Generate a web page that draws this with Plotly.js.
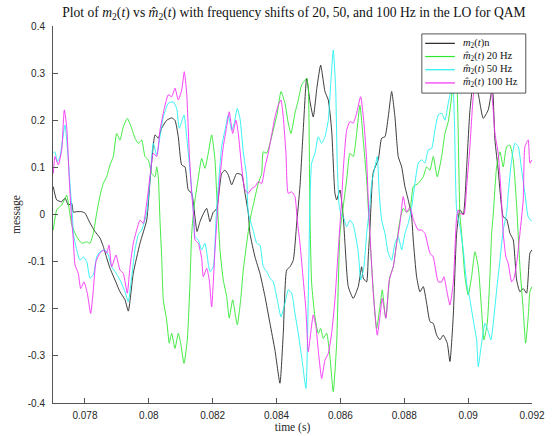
<!DOCTYPE html>
<html>
<head>
<meta charset="utf-8">
<script src="https://cdn.plot.ly/plotly-3.0.1.min.js"></script>
<style>
  html, body { margin: 0; padding: 0; background: #fff; }
  #chart { width: 553px; height: 436px; }
</style>
</head>
<body>
<div id="chart"></div>
<script>
// m2(t)n : reference message
const tK = [0.077009,0.077116,0.077272,0.077376,0.077479,0.077585,0.077636,0.077742,0.077899,0.078002,
  0.078158,0.078315,0.078472,0.078575,0.078681,0.078785,0.078941,0.079098,0.079254,0.079358,
  0.079514,0.079724,0.079934,0.080037,0.080131,0.080194,0.080297,0.080403,0.080560,0.080716,
  0.080820,0.080923,0.081030,0.081133,0.081236,0.081343,0.081446,0.081509,0.081603,0.081697,
  0.081812,0.081916,0.082019,0.082125,0.082282,0.082385,0.082489,0.082595,0.082752,0.082908,
  0.083012,0.083115,0.083168,0.083325,0.083481,0.083638,0.083794,0.083951,0.084107,0.084211,
  0.084317,0.084420,0.084524,0.084630,0.084734,0.084837,0.084943,0.085047,0.085150,0.085266,
  0.085382,0.085516,0.085620,0.085726,0.085829,0.085883,0.085986,0.086089,0.086143,0.086246,
  0.086402,0.086559,0.086665,0.086716,0.086822,0.086872,0.086925,0.087029,0.087185,0.087292,
  0.087395,0.087498,0.087605,0.087708,0.087811,0.087918,0.088021,0.088124,0.088231,0.088281,
  0.088387,0.088491,0.088594,0.088700,0.088804,0.088907,0.089014,0.089117,0.089220,0.089346,
  0.089430,0.089533,0.089640,0.089743,0.089847,0.089953,0.090056,0.090182,0.090307,0.090473,
  0.090629,0.090761,0.090839,0.090942,0.090996,0.091099,0.091205,0.091309,0.091412,0.091518,
  0.091622,0.091725,0.091831,0.091935,0.092000];
const vK = [0.059,0.031,0.027,0.035,0.020,0.024,0.005,0.006,0.006,0.003,
  -0.018,-0.036,-0.050,-0.068,-0.092,-0.114,-0.139,-0.164,-0.181,-0.205,
  -0.125,-0.061,-0.012,0.070,0.140,0.169,0.162,0.183,0.200,0.205,
  0.200,0.165,0.105,0.101,0.052,0.045,-0.005,-0.036,-0.015,0.000,
  0.013,-0.015,0.005,0.012,0.087,0.094,0.084,0.063,0.087,0.084,
  0.045,0.003,-0.040,-0.090,-0.125,-0.174,-0.231,-0.288,-0.358,-0.252,
  -0.118,-0.111,-0.097,-0.020,0.060,0.180,0.289,0.240,0.207,0.270,
  0.317,0.261,0.243,0.179,0.045,0.031,0.052,-0.005,-0.061,-0.153,
  -0.178,-0.153,-0.111,-0.135,-0.143,-0.090,-0.030,0.090,0.116,0.162,
  0.165,0.207,0.261,0.207,0.123,0.101,0.059,0.031,-0.005,-0.054,
  -0.132,-0.164,-0.153,-0.188,-0.227,-0.231,-0.256,-0.266,-0.256,-0.273,
  -0.312,-0.217,-0.040,0.010,0.000,0.100,0.220,0.290,0.260,0.204,
  0.222,0.270,0.158,0.094,0.052,-0.005,-0.010,-0.040,-0.054,-0.139,
  -0.164,-0.157,-0.167,-0.082,-0.075];

// recovered message, 20 Hz LO offset
const tG = [0.077009,0.077116,0.077219,0.077272,0.077376,0.077429,0.077532,0.077585,0.077742,0.077899,
  0.078055,0.078158,0.078262,0.078368,0.078472,0.078575,0.078681,0.078785,0.078888,0.078994,
  0.079098,0.079201,0.079326,0.079464,0.079567,0.079671,0.079777,0.079881,0.079984,0.080090,
  0.080194,0.080247,0.080297,0.080350,0.080403,0.080454,0.080560,0.080641,0.080716,0.080820,
  0.080923,0.080998,0.081102,0.081205,0.081289,0.081343,0.081393,0.081446,0.081549,0.081656,
  0.081759,0.081862,0.081969,0.082072,0.082125,0.082176,0.082229,0.082332,0.082438,0.082520,
  0.082626,0.082770,0.082877,0.082958,0.083065,0.083168,0.083271,0.083428,0.083534,0.083585,
  0.083691,0.083794,0.083898,0.084023,0.084139,0.084264,0.084367,0.084452,0.084577,0.084680,
  0.084787,0.084890,0.084943,0.084993,0.085047,0.085100,0.085203,0.085307,0.085382,0.085463,
  0.085570,0.085673,0.085776,0.085883,0.085986,0.086089,0.086196,0.086299,0.086402,0.086509,
  0.086612,0.086716,0.086822,0.086925,0.087029,0.087135,0.087238,0.087311,0.087417,0.087551,
  0.087655,0.087761,0.087865,0.087968,0.088074,0.088178,0.088281,0.088438,0.088594,0.088700,
  0.088804,0.088907,0.089033,0.089170,0.089274,0.089377,0.089483,0.089555,0.089618,0.089681,
  0.089743,0.089796,0.089900,0.090003,0.090109,0.090213,0.090316,0.090422,0.090495,0.090598,
  0.090682,0.090736,0.090786,0.090892,0.090996,0.091099,0.091205,0.091309,0.091412,0.091518,
  0.091622,0.091725,0.091800,0.091881,0.091935,0.092000];
const vG = [-0.033,0.010,0.017,0.020,0.034,0.041,0.000,-0.022,-0.047,-0.061,
  -0.058,-0.061,-0.040,0.003,0.040,0.066,0.080,0.105,0.123,0.172,
  0.158,0.186,0.204,0.183,0.162,0.151,0.158,0.123,0.116,0.087,
  0.080,0.101,0.080,-0.012,-0.090,-0.181,-0.224,-0.273,-0.252,-0.284,
  -0.252,-0.273,-0.316,-0.266,-0.146,-0.040,0.000,0.031,0.077,0.119,
  0.098,0.130,0.169,0.116,0.045,-0.012,-0.075,-0.139,-0.174,-0.220,
  -0.181,-0.234,-0.181,-0.118,-0.061,-0.012,0.020,0.066,0.087,0.133,
  0.130,0.151,0.179,0.215,0.261,0.236,0.194,0.172,0.215,0.243,
  0.275,0.285,0.289,0.270,0.000,-0.146,-0.217,-0.252,-0.242,-0.263,
  -0.252,-0.302,-0.376,-0.273,-0.040,0.017,0.073,0.130,0.123,0.172,
  0.232,0.158,0.073,-0.050,-0.160,-0.242,-0.196,-0.160,-0.220,-0.132,
  -0.111,-0.061,-0.012,0.013,0.005,0.010,0.059,0.066,0.080,0.101,
  0.094,0.123,0.080,0.123,0.172,0.197,0.250,0.320,0.350,0.200,
  0.000,-0.040,-0.132,-0.171,-0.132,-0.079,-0.111,-0.203,-0.266,-0.231,
  -0.132,-0.040,0.000,0.101,0.133,0.101,0.144,0.147,0.116,0.020,
  -0.111,-0.203,-0.273,-0.217,-0.164,-0.153];

// recovered message, 50 Hz LO offset
const tC = [0.077009,0.077063,0.077135,0.077219,0.077376,0.077479,0.077554,0.077617,0.077636,0.077742,
  0.077845,0.077949,0.078055,0.078158,0.078262,0.078368,0.078472,0.078628,0.078731,0.078838,
  0.078941,0.079098,0.079254,0.079358,0.079464,0.079567,0.079671,0.079777,0.079934,0.080037,
  0.080140,0.080247,0.080350,0.080454,0.080610,0.080767,0.080873,0.080954,0.081102,0.081186,
  0.081289,0.081393,0.081446,0.081549,0.081656,0.081759,0.081862,0.081916,0.082019,0.082104,
  0.082144,0.082176,0.082282,0.082385,0.082489,0.082595,0.082677,0.082770,0.082855,0.082958,
  0.083065,0.083115,0.083271,0.083378,0.083481,0.083585,0.083691,0.083794,0.083898,0.084023,
  0.084139,0.084264,0.084367,0.084474,0.084577,0.084680,0.084787,0.084921,0.084993,0.085047,
  0.085100,0.085203,0.085307,0.085413,0.085516,0.085620,0.085704,0.085776,0.085851,0.085901,
  0.085964,0.086039,0.086089,0.086196,0.086299,0.086402,0.086559,0.086634,0.086737,0.086822,
  0.086925,0.086978,0.087082,0.087154,0.087216,0.087292,0.087395,0.087498,0.087605,0.087708,
  0.087811,0.087918,0.088021,0.088124,0.088231,0.088334,0.088438,0.088544,0.088647,0.088751,
  0.088857,0.088960,0.089064,0.089170,0.089274,0.089377,0.089452,0.089508,0.089571,0.089640,
  0.089743,0.089847,0.089953,0.090056,0.090160,0.090266,0.090316,0.090422,0.090526,0.090629,
  0.090714,0.090786,0.090892,0.090996,0.091099,0.091205,0.091256,0.091362,0.091465,0.091569,
  0.091675,0.091778,0.091881,0.092000];
const vC = [0.130,0.133,0.112,0.123,0.190,0.116,0.045,-0.012,-0.040,-0.075,
  -0.097,-0.090,-0.100,-0.135,-0.128,-0.090,-0.079,-0.075,-0.086,-0.111,
  -0.121,-0.139,-0.164,-0.185,-0.132,-0.075,-0.043,-0.033,0.003,0.073,
  0.151,0.126,0.165,0.207,0.236,0.239,0.225,0.183,0.211,0.165,
  0.094,0.010,-0.047,-0.054,-0.075,-0.061,-0.104,-0.121,-0.111,-0.012,
  0.031,0.059,0.144,0.179,0.211,0.179,0.194,0.225,0.204,0.133,
  0.080,0.003,-0.034,-0.061,-0.065,-0.111,-0.121,-0.135,-0.143,-0.181,
  -0.217,-0.188,-0.160,-0.167,-0.210,-0.252,-0.302,-0.369,-0.181,0.031,
  0.109,0.130,0.165,0.151,0.165,0.200,0.285,0.349,0.270,0.109,
  0.017,-0.003,-0.005,-0.026,-0.012,-0.022,-0.079,-0.139,-0.111,-0.040,
  0.020,0.066,0.101,0.123,0.045,-0.012,-0.040,-0.082,-0.097,-0.061,
  -0.047,-0.075,-0.040,-0.019,0.015,0.066,0.109,0.116,0.109,0.137,
  0.140,0.179,0.211,0.215,0.200,0.236,0.261,0.310,0.200,0.010,
  -0.026,-0.075,-0.146,-0.181,-0.224,-0.266,-0.323,-0.273,-0.231,-0.248,
  -0.266,-0.231,-0.161,-0.097,-0.033,0.003,0.045,0.116,0.151,0.144,
  0.094,0.045,-0.005,-0.015];

// recovered message, 100 Hz LO offset
const tM = [0.077009,0.077063,0.077166,0.077272,0.077354,0.077429,0.077510,0.077585,0.077636,0.077689,
  0.077792,0.077867,0.077971,0.078074,0.078180,0.078262,0.078346,0.078472,0.078597,0.078681,
  0.078753,0.078838,0.078973,0.079098,0.079201,0.079326,0.079411,0.079514,0.079621,0.079724,
  0.079827,0.079934,0.080037,0.080140,0.080247,0.080350,0.080475,0.080610,0.080716,0.080820,
  0.080923,0.081030,0.081111,0.081186,0.081268,0.081343,0.081415,0.081446,0.081549,0.081656,
  0.081706,0.081812,0.081894,0.081969,0.082072,0.082176,0.082229,0.082332,0.082438,0.082520,
  0.082626,0.082730,0.082802,0.082908,0.083012,0.083115,0.083221,0.083325,0.083428,0.083534,
  0.083638,0.083741,0.083848,0.083951,0.084054,0.084139,0.084211,0.084295,0.084367,0.084474,
  0.084577,0.084649,0.084734,0.084837,0.084921,0.084993,0.085069,0.085150,0.085235,0.085307,
  0.085413,0.085516,0.085620,0.085726,0.085829,0.085933,0.086039,0.086089,0.086196,0.086299,
  0.086402,0.086509,0.086634,0.086737,0.086822,0.086872,0.086925,0.087029,0.087154,0.087238,
  0.087311,0.087426,0.087530,0.087655,0.087761,0.087865,0.087968,0.088074,0.088178,0.088281,
  0.088334,0.088438,0.088544,0.088647,0.088804,0.088907,0.089064,0.089170,0.089242,0.089327,
  0.089430,0.089533,0.089640,0.089690,0.089743,0.089868,0.089953,0.090056,0.090160,0.090275,
  0.090401,0.090526,0.090651,0.090736,0.090839,0.090942,0.091027,0.091099,0.091183,0.091256,
  0.091362,0.091434,0.091518,0.091622,0.091725,0.091778,0.091881,0.091935,0.092000];
const vM = [0.087,0.123,0.105,0.137,0.222,0.186,0.073,-0.012,-0.054,-0.107,
  -0.125,-0.157,-0.143,-0.167,-0.210,-0.160,-0.100,-0.082,-0.075,-0.082,
  -0.065,-0.111,-0.086,-0.118,-0.125,-0.167,-0.111,-0.061,-0.033,-0.012,
  -0.019,0.024,0.080,0.130,0.123,0.179,0.222,0.254,0.250,0.268,
  0.243,0.264,0.303,0.258,0.130,0.045,-0.012,-0.054,-0.061,-0.093,
  -0.132,-0.114,-0.139,-0.196,-0.075,0.031,0.080,0.144,0.186,0.218,
  0.172,0.200,0.172,0.101,0.052,0.045,0.055,0.059,0.070,0.066,
  0.101,0.130,0.169,0.207,0.232,0.243,0.207,0.130,0.045,0.048,
  0.038,-0.012,-0.061,-0.139,-0.203,-0.291,-0.252,-0.213,-0.238,-0.288,
  -0.348,-0.309,-0.295,-0.252,-0.181,-0.075,0.031,0.094,0.179,0.197,
  0.194,0.215,0.250,0.194,0.116,0.030,-0.040,-0.167,-0.256,-0.217,
  -0.178,-0.220,-0.139,-0.111,-0.061,-0.019,0.038,0.005,0.015,-0.010,
  -0.019,-0.033,-0.033,-0.040,-0.082,-0.090,-0.143,-0.143,-0.132,-0.160,
  -0.192,-0.146,-0.005,0.010,0.003,0.000,0.059,0.144,0.250,0.300,
  0.280,0.300,0.270,0.257,0.172,0.130,0.050,-0.040,-0.090,-0.104,
  -0.143,-0.136,-0.104,-0.040,0.031,0.144,0.158,0.109,0.116];

const xTicks = [0.078, 0.080, 0.082, 0.084, 0.086, 0.088, 0.090, 0.092];
const xTickText = ['0.078', '0.08', '0.082', '0.084', '0.086', '0.088', '0.09', '0.092'];
const yTicks = [-0.4, -0.3, -0.2, -0.1, 0, 0.1, 0.2, 0.3, 0.4];
const yTickText = ['-0.4', '-0.3', '-0.2', '-0.1', '0', '0.1', '0.2', '0.3', '0.4'];

const seriesNames = [
  '<i>m</i><sub>2</sub>(<i>t</i>)n',
  '<i>m\u0302</i><sub>2</sub>(<i>t</i>) 20 Hz',
  '<i>m\u0302</i><sub>2</sub>(<i>t</i>) 50 Hz',
  '<i>m\u0302</i><sub>2</sub>(<i>t</i>) 100 Hz'
];
const seriesColors = ['#262626', '#2ee82e', '#22f0f0', '#f52ef5'];

const xs = [tK, tG, tC, tM];
const ys = [vK, vG, vC, vM];

const traces = xs.map((x, i) => ({
  type: 'scatter',
  mode: 'lines',
  x: x,
  y: ys[i],
  name: seriesNames[i],
  showlegend: false,
  line: { color: seriesColors[i], width: 0.9, shape: 'spline', smoothing: 0.5 },
  hoverinfo: 'skip'
}));

const serif = 'Liberation Serif, Times New Roman, serif';
const sans = 'Liberation Sans, Arial, Helvetica, sans-serif';
const axisColor = '#555555';

// Compact boxed key in the top-right corner of the axes (paper coordinates).
const keyBox = { x0: 0.770, x1: 0.987, y0: 0.822, y1: 0.979 };
const keyRows = [0.954, 0.919, 0.884, 0.849];
const keyLine = { x0: 0.777, x1: 0.839 };
const keyTextX = 0.851;

const shapes = [{
  type: 'rect', xref: 'paper', yref: 'paper',
  x0: keyBox.x0, x1: keyBox.x1, y0: keyBox.y0, y1: keyBox.y1,
  fillcolor: '#ffffff', line: { color: '#555555', width: 1 }, layer: 'above'
}].concat(keyRows.map((y, i) => ({
  type: 'line', xref: 'paper', yref: 'paper',
  x0: keyLine.x0, x1: keyLine.x1, y0: y, y1: y,
  line: { color: seriesColors[i], width: 1.2 }, layer: 'above'
})));

const annotations = keyRows.map((y, i) => ({
  xref: 'paper', yref: 'paper', x: keyTextX, y: y,
  xanchor: 'left', yanchor: 'middle', showarrow: false,
  text: seriesNames[i],
  font: { family: serif, size: 10.5, color: '#111111' }
}));

const layout = {
  width: 553,
  height: 436,
  margin: { l: 53, r: 21, t: 26, b: 33, pad: 0 },
  paper_bgcolor: '#ffffff',
  plot_bgcolor: '#ffffff',
  showlegend: false,
  title: {
    text: 'Plot of <i>m</i><sub>2</sub>(<i>t</i>) vs <i>m\u0302</i><sub>2</sub>(<i>t</i>) with frequency shifts of 20, 50, and 100 Hz in the LO for QAM',
    font: { family: serif, size: 13.6, color: '#111111' },
    x: 0.503, xref: 'paper', xanchor: 'center',
    y: 0.972, yref: 'container', yanchor: 'middle'
  },
  xaxis: {
    range: [0.077, 0.092],
    tickmode: 'array', tickvals: xTicks, ticktext: xTickText,
    ticks: 'inside', ticklen: 5, tickwidth: 1, tickcolor: axisColor,
    ticklabelstandoff: 3,
    showline: true, linecolor: axisColor, linewidth: 1, mirror: false,
    showgrid: false, zeroline: false,
    tickfont: { family: sans, size: 10, color: '#262626' },
    title: { text: 'time (s)', font: { family: serif, size: 11.5, color: '#262626' }, standoff: 2 },
    automargin: false
  },
  yaxis: {
    range: [-0.4, 0.4],
    tickmode: 'array', tickvals: yTicks, ticktext: yTickText,
    ticks: 'inside', ticklen: 5, tickwidth: 1, tickcolor: axisColor,
    ticklabelstandoff: 5,
    showline: true, linecolor: axisColor, linewidth: 1, mirror: false,
    showgrid: false, zeroline: false,
    tickfont: { family: sans, size: 10, color: '#262626' },
    title: { text: 'message', font: { family: serif, size: 11.5, color: '#262626' }, standoff: 4 },
    automargin: false
  },
  shapes: shapes,
  annotations: annotations
};

Plotly.newPlot('chart', traces, layout, { displayModeBar: false, staticPlot: true });
</script>
</body>
</html>
